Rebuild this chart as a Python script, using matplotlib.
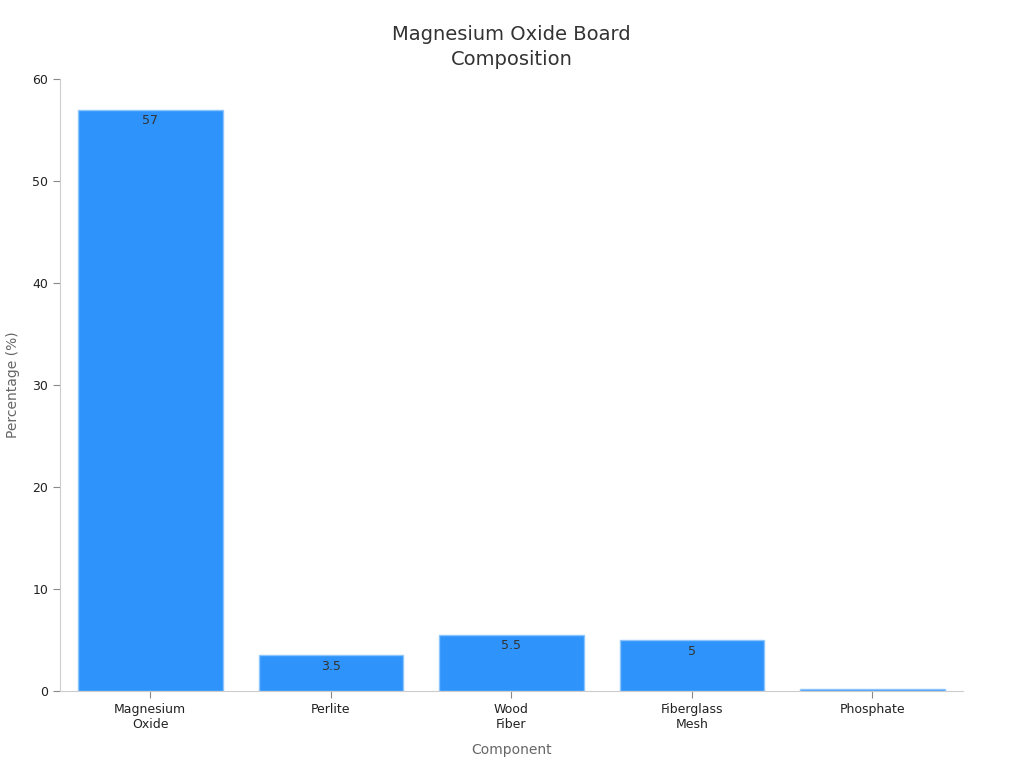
import numpy as np
import matplotlib.pyplot as plt

components = ["Magnesium\nOxide", "Perlite", "Wood\nFiber", "Fiberglass\nMesh", "Phosphate"]
percent = [57, 3.5, 5.5, 5, 0.2]
labels = ["57", "3.5", "5.5", "5", ""]

fig = plt.figure(figsize=(10.24, 7.68), dpi=100)
ax = fig.add_axes([0.0586, 0.1003, 0.8816, 0.7966])

x = np.arange(len(components))
bars = ax.bar(x, percent, width=0.8, color="#2E93FA", edgecolor="#8CC4FC", linewidth=1)

for b, lab in zip(bars, labels):
    if lab:
        ax.text(b.get_x() + b.get_width() / 2, b.get_height() - 0.45, lab,
                ha="center", va="top", fontsize=9, color="#333333")

ax.set_xlim(-0.5, 4.5)
ax.set_ylim(0, 60)
ax.set_yticks([0, 10, 20, 30, 40, 50, 60])
ax.set_xticks(x)
ax.set_xticklabels(components, fontsize=9, color="#222222")
ax.tick_params(axis="y", labelsize=9, labelcolor="#222222", color="#888888", length=5)
ax.tick_params(axis="x", color="#888888", length=5)

for s in ["top", "right"]:
    ax.spines[s].set_visible(False)
ax.spines["left"].set_color("#cccccc")
ax.spines["bottom"].set_color("#cccccc")

ax.set_xlabel("Component", fontsize=10, color="#666666", labelpad=9)
ax.set_ylabel("Percentage (%)", fontsize=10, color="#666666", labelpad=9)
ax.set_title("Magnesium Oxide Board\nComposition", fontsize=14, color="#333333",
             pad=10, linespacing=1.45)

plt.savefig("out.png", dpi=100)
